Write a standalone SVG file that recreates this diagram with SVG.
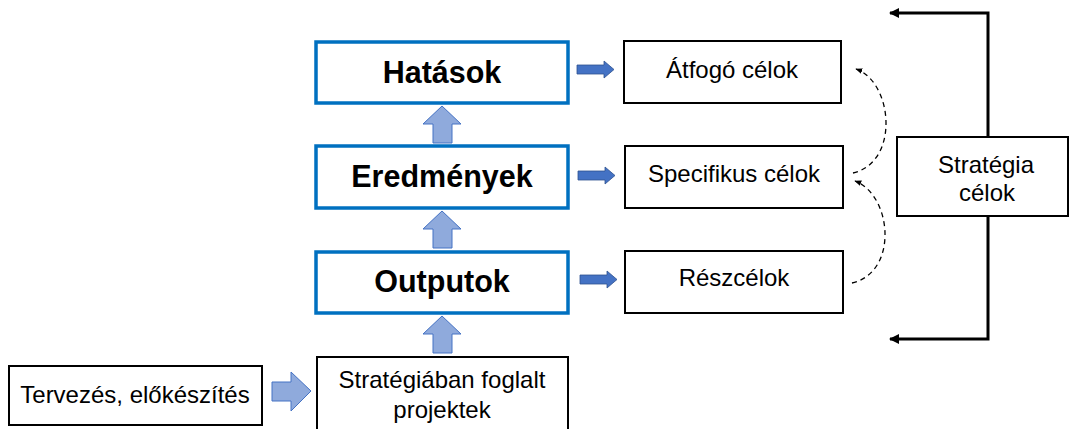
<svg xmlns="http://www.w3.org/2000/svg" width="1069" height="429" viewBox="0 0 1069 429">
<style>
.bb{fill:#fff;stroke:#0070C0;stroke-width:3.5}
.wb{fill:#fff;stroke:#000;stroke-width:2}
.bt{font-family:"Liberation Sans",Arial,sans-serif;font-weight:bold;font-size:30.5px;fill:#000;text-anchor:middle}
.rt{font-family:"Liberation Sans",Arial,sans-serif;font-size:24px;fill:#000;text-anchor:middle}
.up{fill:#8FAADC;stroke:#4472C4;stroke-width:1}
.ra{fill:#4472C4;stroke:#2F528F;stroke-width:0.8}
.dash{fill:none;stroke:#000;stroke-width:1.3;stroke-dasharray:5 4}
.solid{fill:none;stroke:#000;stroke-width:3}
</style>
<defs>
<marker id="ah" viewBox="0 0 10 10" refX="9" refY="5" markerWidth="7" markerHeight="7" orient="auto" markerUnits="userSpaceOnUse">
<path d="M0,1 L10,5 L0,9 z" fill="#000"/>
</marker>
<marker id="ah2" viewBox="0 0 10 10" refX="9" refY="5" markerWidth="14" markerHeight="10" orient="auto" markerUnits="userSpaceOnUse">
<path d="M0,0 L10,5 L0,10 z" fill="#000"/>
</marker>
</defs>

<g id="hatasok"><rect class="bb" x="316" y="42" width="252" height="61"/><text class="bt" x="442" y="83">Hatások</text></g>
<g id="eredmenyek"><rect class="bb" x="316" y="146" width="252" height="62"/><text class="bt" x="442" y="187">Eredmények</text></g>
<g id="outputok"><rect class="bb" x="316" y="252" width="252" height="61"/><text class="bt" x="442" y="292">Outputok</text></g>
<g id="projektek"><rect class="wb" x="317" y="357" width="251" height="80"/><text class="rt" x="442" y="388">Stratégiában foglalt</text><text class="rt" x="442" y="418">projektek</text></g>
<g id="tervezes"><rect class="wb" x="9" y="366" width="253" height="59"/><text class="rt" x="135" y="403">Tervezés, előkészítés</text></g>
<g id="atfogo"><rect class="wb" x="624" y="41" width="217" height="62"/><text class="rt" x="732" y="78">Átfogó célok</text></g>
<g id="specifikus"><rect class="wb" x="625" y="146" width="218" height="62"/><text class="rt" x="734" y="182">Specifikus célok</text></g>
<g id="reszcelok"><rect class="wb" x="625" y="251" width="218" height="62"/><text class="rt" x="734" y="286">Részcélok</text></g>
<g id="strategia"><rect class="wb" x="897" y="137" width="171" height="79"/><text class="rt" x="986" y="173">Stratégia</text><text class="rt" x="987" y="201">célok</text></g>

<g id="connectors">
<path class="up" d="M442,106 L461,124 L452,124 L452,143 L433,143 L433,124 L423,124 z"/>
<path class="up" d="M442,211 L461,229 L452,229 L452,248 L433,248 L433,229 L423,229 z"/>
<path class="up" d="M442,316 L461,334 L452,334 L452,353 L433,353 L433,334 L423,334 z"/>
<path class="up" d="M311,391 L291,411 L291,401 L272,401 L272,382 L291,382 L291,372 z"/>
<path class="ra" d="M577,65 L604,65 L604,61 L614,69.5 L604,78 L604,74 L577,74 z"/>
<path class="ra" d="M578,171 L605,171 L605,167 L615,175.5 L605,184 L605,180 L578,180 z"/>
<path class="ra" d="M580,275 L607,275 L607,271 L617,279.5 L607,288 L607,284 L580,284 z"/>
<path class="dash" d="M853,173 C900,162 893,82 856,69" marker-end="url(#ah)"/>
<path class="dash" d="M852,283 C899,272 892,195 855,181" marker-end="url(#ah)"/>
<path class="solid" d="M988,137 L988,13 L890,13" marker-end="url(#ah2)"/>
<path class="solid" d="M988,216 L988,339 L890,339" marker-end="url(#ah2)"/>
</g>
</svg>
